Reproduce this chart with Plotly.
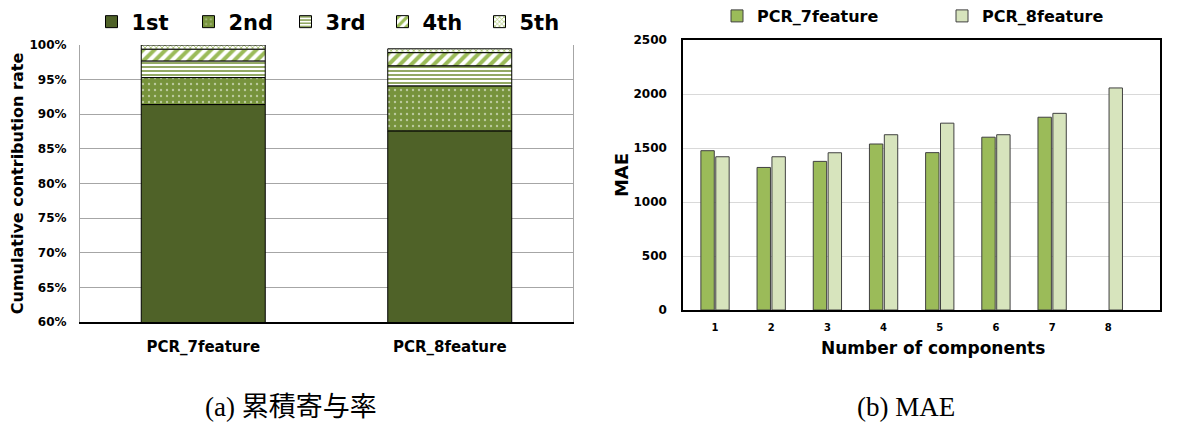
import numpy as np
import plotly.graph_objects as go

# ---------------- data ----------------
methods = ["PCR_7feature", "PCR_8feature"]
comp_names = ["1st", "2nd", "3rd", "4th", "5th"]
rate_1st = [0.914, 0.876]
rate_2nd = [0.039, 0.065]
rate_3rd = [0.024, 0.029]
rate_4th = [0.017, 0.019]
rate_5th = [0.006, 0.0055]

n_components = ["1", "2", "3", "4", "5", "6", "7", "8"]
mae_7feature = [1475, 1320, 1376, 1537, 1457, 1600, 1785, None]
mae_8feature = [1419, 1419, 1456, 1623, 1730, 1623, 1821, 2056]

rate_y_ticks = [0.60, 0.65, 0.70, 0.75, 0.80, 0.85, 0.90, 0.95, 1.00]
rate_y_labels = ["60%", "65%", "70%", "75%", "80%", "85%", "90%", "95%", "100%"]
mae_y_ticks = [0, 500, 1000, 1500, 2000, 2500]

# ---------------- styles ----------------
OFF = 8  # page body margin
W, H = 1188 - OFF, 425 - OFF
FONT = "DejaVu Sans"
patterns = [
    dict(shape="", fillmode="replace"),
    dict(shape=".", fillmode="overlay", fgcolor="white", size=6, solidity=0.12),
    dict(shape="-", fillmode="replace", fgcolor="#77933C", bgcolor="white", size=4, solidity=0.4),
    dict(shape="/", fillmode="replace", fgcolor="#9BBB59", bgcolor="white", size=8, solidity=0.5),
    dict(shape="x", fillmode="replace", fgcolor="#9BBB59", bgcolor="white", size=4, solidity=0.35),
]
seg_colors = ["#4F6228", "#77933C", "#77933C", "#9BBB59", "#9BBB59"]

fig = go.Figure()

segments = [rate_1st, rate_2nd, rate_3rd, rate_4th, rate_5th]
base = np.zeros(len(methods))
for name, vals, pat, col in zip(comp_names, segments, patterns, seg_colors):
    vals = np.array(vals, dtype=float)
    fig.add_trace(go.Bar(
        x=methods, y=vals, base=base.copy(), name=name,
        xaxis="x", yaxis="y", offsetgroup="stack", width=0.503, offset=-0.2515,
        marker=dict(color=col, pattern=pat, line=dict(color="black", width=1)),
        legend="legend",
    ))
    base = base + vals

fig.add_trace(go.Bar(
    x=n_components, y=mae_7feature, name="PCR_7feature",
    xaxis="x2", yaxis="y2", offsetgroup="a",
    marker=dict(color="#9BBB59", line=dict(color="#404040", width=1)),
    legend="legend2",
))
fig.add_trace(go.Bar(
    x=n_components, y=mae_8feature, name="PCR_8feature",
    xaxis="x2", yaxis="y2", offsetgroup="b",
    marker=dict(color="#D7E4BD", line=dict(color="#404040", width=1)),
    legend="legend2",
))

def px_x(p):
    return (p - OFF) / W

def px_y(p):
    return (H - (p - OFF)) / H

fig.update_layout(
    width=W, height=H,
    margin=dict(l=0, r=0, t=0, b=0, autoexpand=False),
    paper_bgcolor="white", plot_bgcolor="white",
    barmode="group", bargap=0.47, bargroupgap=0.1,
    font=dict(family=FONT, color="black"),
    xaxis=dict(
        domain=[px_x(80), px_x(573)], anchor="y", automargin=False,
        showline=True, linecolor="black", linewidth=1.5,
        tickfont=dict(size=15, family=FONT, weight="bold"),
        ticks="", ticklabelstandoff=10,
    ),
    yaxis=dict(
        domain=[px_y(322), px_y(45)], anchor="x", automargin=False,
        range=[0.6, 1.0], tickvals=rate_y_ticks, ticktext=rate_y_labels,
        showgrid=True, gridcolor="#A6A6A6", gridwidth=1,
        showline=True, linecolor="#A6A6A6", mirror=True,
        tickfont=dict(size=12, family=FONT, weight="bold"),
        ticks="", ticklabelstandoff=10,
        title=dict(text="Cumulative contribution rate",
                   font=dict(size=16, family=FONT, weight="bold"), standoff=6),
        zeroline=False,
    ),
    xaxis2=dict(
        domain=[px_x(683), px_x(1160)], anchor="y2", automargin=False,
        range=[-0.57, 7.92],
        showline=True, linecolor="black", linewidth=1.5, mirror=True,
        tickfont=dict(size=10, family=FONT, weight="bold"),
        ticks="", ticklabelstandoff=7,
    ),
    yaxis2=dict(
        domain=[px_y(310), px_y(40)], anchor="x2", automargin=False,
        range=[0, 2500], tickvals=mae_y_ticks,
        showgrid=True, gridcolor="#D9D9D9", gridwidth=1,
        showline=True, linecolor="black", linewidth=1.5, mirror=True,
        tickfont=dict(size=12, family=FONT, weight="bold"),
        ticks="", ticklabelstandoff=12,
        title=dict(text="MAE", font=dict(size=18, family=FONT, weight="bold"), standoff=0),
        zeroline=False,
    ),
    legend=dict(
        orientation="h", x=px_x(334), xanchor="center", y=px_y(22), yanchor="middle",
        font=dict(size=21, family=FONT, weight="bold"),
        entrywidth=52, traceorder="normal", bgcolor="rgba(0,0,0,0)",
    ),
    legend2=dict(
        orientation="h", x=px_x(942), xanchor="center", y=px_y(16), yanchor="middle",
        font=dict(size=16, family=FONT, weight="bold"),
        entrywidth=180, traceorder="normal", bgcolor="rgba(0,0,0,0)",
    ),
    showlegend=True,
)

fig.add_annotation(text="Number of components", x=px_x(933), y=px_y(348), xref="paper", yref="paper",
                   showarrow=False, font=dict(size=17, family=FONT, weight="bold", color="black"),
                   xanchor="center", yanchor="middle")

CAP_FONT = "Liberation Serif, Noto Sans CJK JP"
fig.add_annotation(text="(a) 累積寄与率", x=px_x(291), y=px_y(407), xref="paper", yref="paper",
                   showarrow=False, font=dict(size=27, family=CAP_FONT, color="black"),
                   xanchor="center", yanchor="middle")
fig.add_annotation(text="(b) MAE", x=px_x(906), y=px_y(407), xref="paper", yref="paper",
                   showarrow=False, font=dict(size=27, family=CAP_FONT, color="black"),
                   xanchor="center", yanchor="middle")

fig.write_html("out.html")
